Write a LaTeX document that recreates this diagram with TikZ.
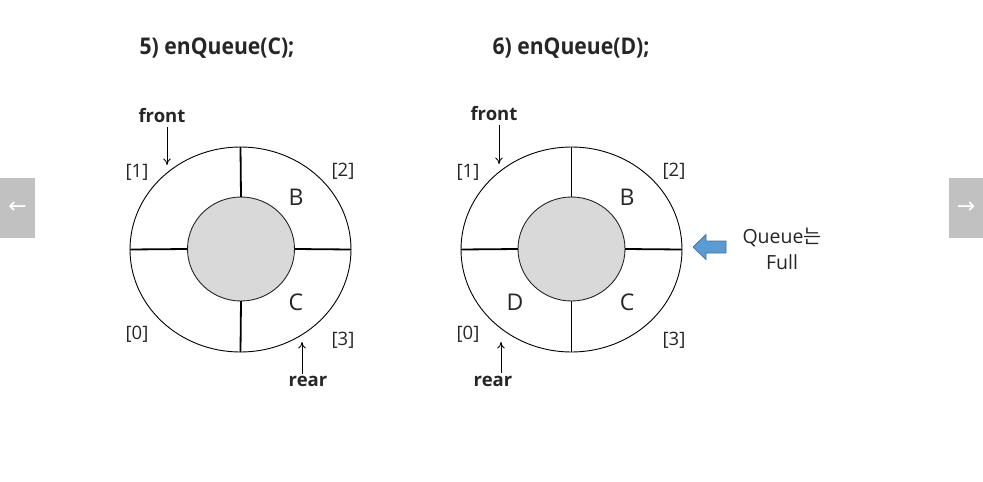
\documentclass[tikz,border=0pt]{standalone}
\usepackage{graphicx}
\usepackage{fontspec}
\setmainfont{Open Sans}
\newfontfamily\krfont{Noto Sans CJK KR}
\newfontfamily\arrowfont{DejaVu Sans}
\usetikzlibrary{arrows.meta,shapes.geometric}
\definecolor{innergray}{RGB}{217,217,217}
\definecolor{btngray}{RGB}{193,193,193}
\definecolor{qblue}{RGB}{91,155,213}
\definecolor{qbluedark}{RGB}{65,113,156}
\definecolor{txt}{RGB}{38,38,38}
\newcommand{\ttltext}[1]{\scalebox{0.92}[1]{#1}}
\begin{document}
\begin{tikzpicture}[x=1pt,y=-1pt,
  outerring/.style={ellipse, draw=black, line width=0.9pt, fill=white, minimum width=221pt, minimum height=205pt, inner sep=0pt, outer sep=0pt},
  innerring/.style={ellipse, draw=black!85, line width=0.9pt, fill=innergray, minimum width=107pt, minimum height=104pt, inner sep=0pt, outer sep=0pt},
  divider/.style={line width=1.8pt},
  idx/.style={font=\fontsize{18.5}{18.5}\selectfont, text=txt, inner sep=0pt},
  val/.style={font=\fontsize{23}{23}\selectfont, text=txt, inner sep=0pt},
  ptr/.style={font=\bfseries\fontsize{18.5}{18.5}\selectfont, text=txt, inner sep=0pt},
  ptrarrow/.style={-{To[length=6.5pt,width=7.5pt]}, line width=0.8pt},
  ttl/.style={font=\bfseries\fontsize{23}{23}\selectfont, text=txt, inner sep=0pt},
  btn/.style={fill=btngray, minimum width=35pt, minimum height=60pt, inner sep=0pt, text=white, font=\arrowfont\fontsize{22}{22}\selectfont}
]
\useasboundingbox (0,0) rectangle (983,482);
\fill[white] (0,0) rectangle (983,482);

% navigation buttons
\node[btn] (bl) at (17.5,208) {←};
\node[btn] (br) at (966,208) {→};

% titles
\node[ttl] (t1) at (217,48) {\ttltext{5) enQueue(C);}};
\node[ttl] (t2) at (571,48) {\ttltext{6) enQueue(D);}};

% ---------- left queue ----------
\node[outerring] (o1) at (240.5,249.5) {};
\node[innerring] (i1) at (241,249) {};
\draw[divider] (o1.north) -- (i1.north);
\draw[divider] (i1.south) -- (o1.south);
\draw[divider] (o1.west) -- (i1.west);
\draw[divider] (i1.east) -- (o1.east);

\node[idx] (l1a) at (137,172) {[1]};
\node[idx] (l1b) at (343,171) {[2]};
\node[idx] (l1c) at (137,334) {[0]};
\node[idx] (l1d) at (343,340) {[3]};
\node[val] (v1b) at (296,197) {B};
\node[val] (v1c) at (296,302) {C};

\node[ptr] (f1) at (162,116) {front};
\coordinate (f1e) at (167,165);
\draw[ptrarrow] (f1.south -| f1e) ++(0,4) -- (f1e);
\node[ptr] (r1) at (308,381) {rear};
\coordinate (r1e) at (302,342);
\draw[ptrarrow] (r1.north -| r1e) ++(0,-2) -- (r1e);

% ---------- right queue ----------
\node[outerring] (o2) at (571.5,249.5) {};
\node[innerring] (i2) at (571.5,249) {};
\draw[divider] (o2.north) -- (i2.north);
\draw[divider] (i2.south) -- (o2.south);
\draw[divider] (o2.west) -- (i2.west);
\draw[divider] (i2.east) -- (o2.east);

\node[idx] (l2a) at (468,172) {[1]};
\node[idx] (l2b) at (674,171) {[2]};
\node[idx] (l2c) at (468,334) {[0]};
\node[idx] (l2d) at (674,340) {[3]};
\node[val] (v2b) at (627,197) {B};
\node[val] (v2d) at (515,302) {D};
\node[val] (v2c) at (627,302) {C};

\node[ptr] (f2) at (494,114) {front};
\coordinate (f2e) at (499,164);
\draw[ptrarrow] (f2.south -| f2e) ++(0,4) -- (f2e);
\node[ptr] (r2) at (493,381) {rear};
\coordinate (r2e) at (501,342);
\draw[ptrarrow] (r2.north -| r2e) ++(0,-3) -- (r2e);

% full indicator (block arrow)
\filldraw[fill=qblue, draw=qbluedark, line width=0.7pt, line join=miter]
  (693,247) -- (706,234.5) -- (706,241) -- (726,241) -- (726,253) -- (706,253) -- (706,259.5) -- cycle;
\node[font=\fontsize{19.5}{26}\selectfont, text=txt, align=center, inner sep=0pt] (full) at (782,249) {Queue{\krfont 는}\\Full};
\end{tikzpicture}
\end{document}
